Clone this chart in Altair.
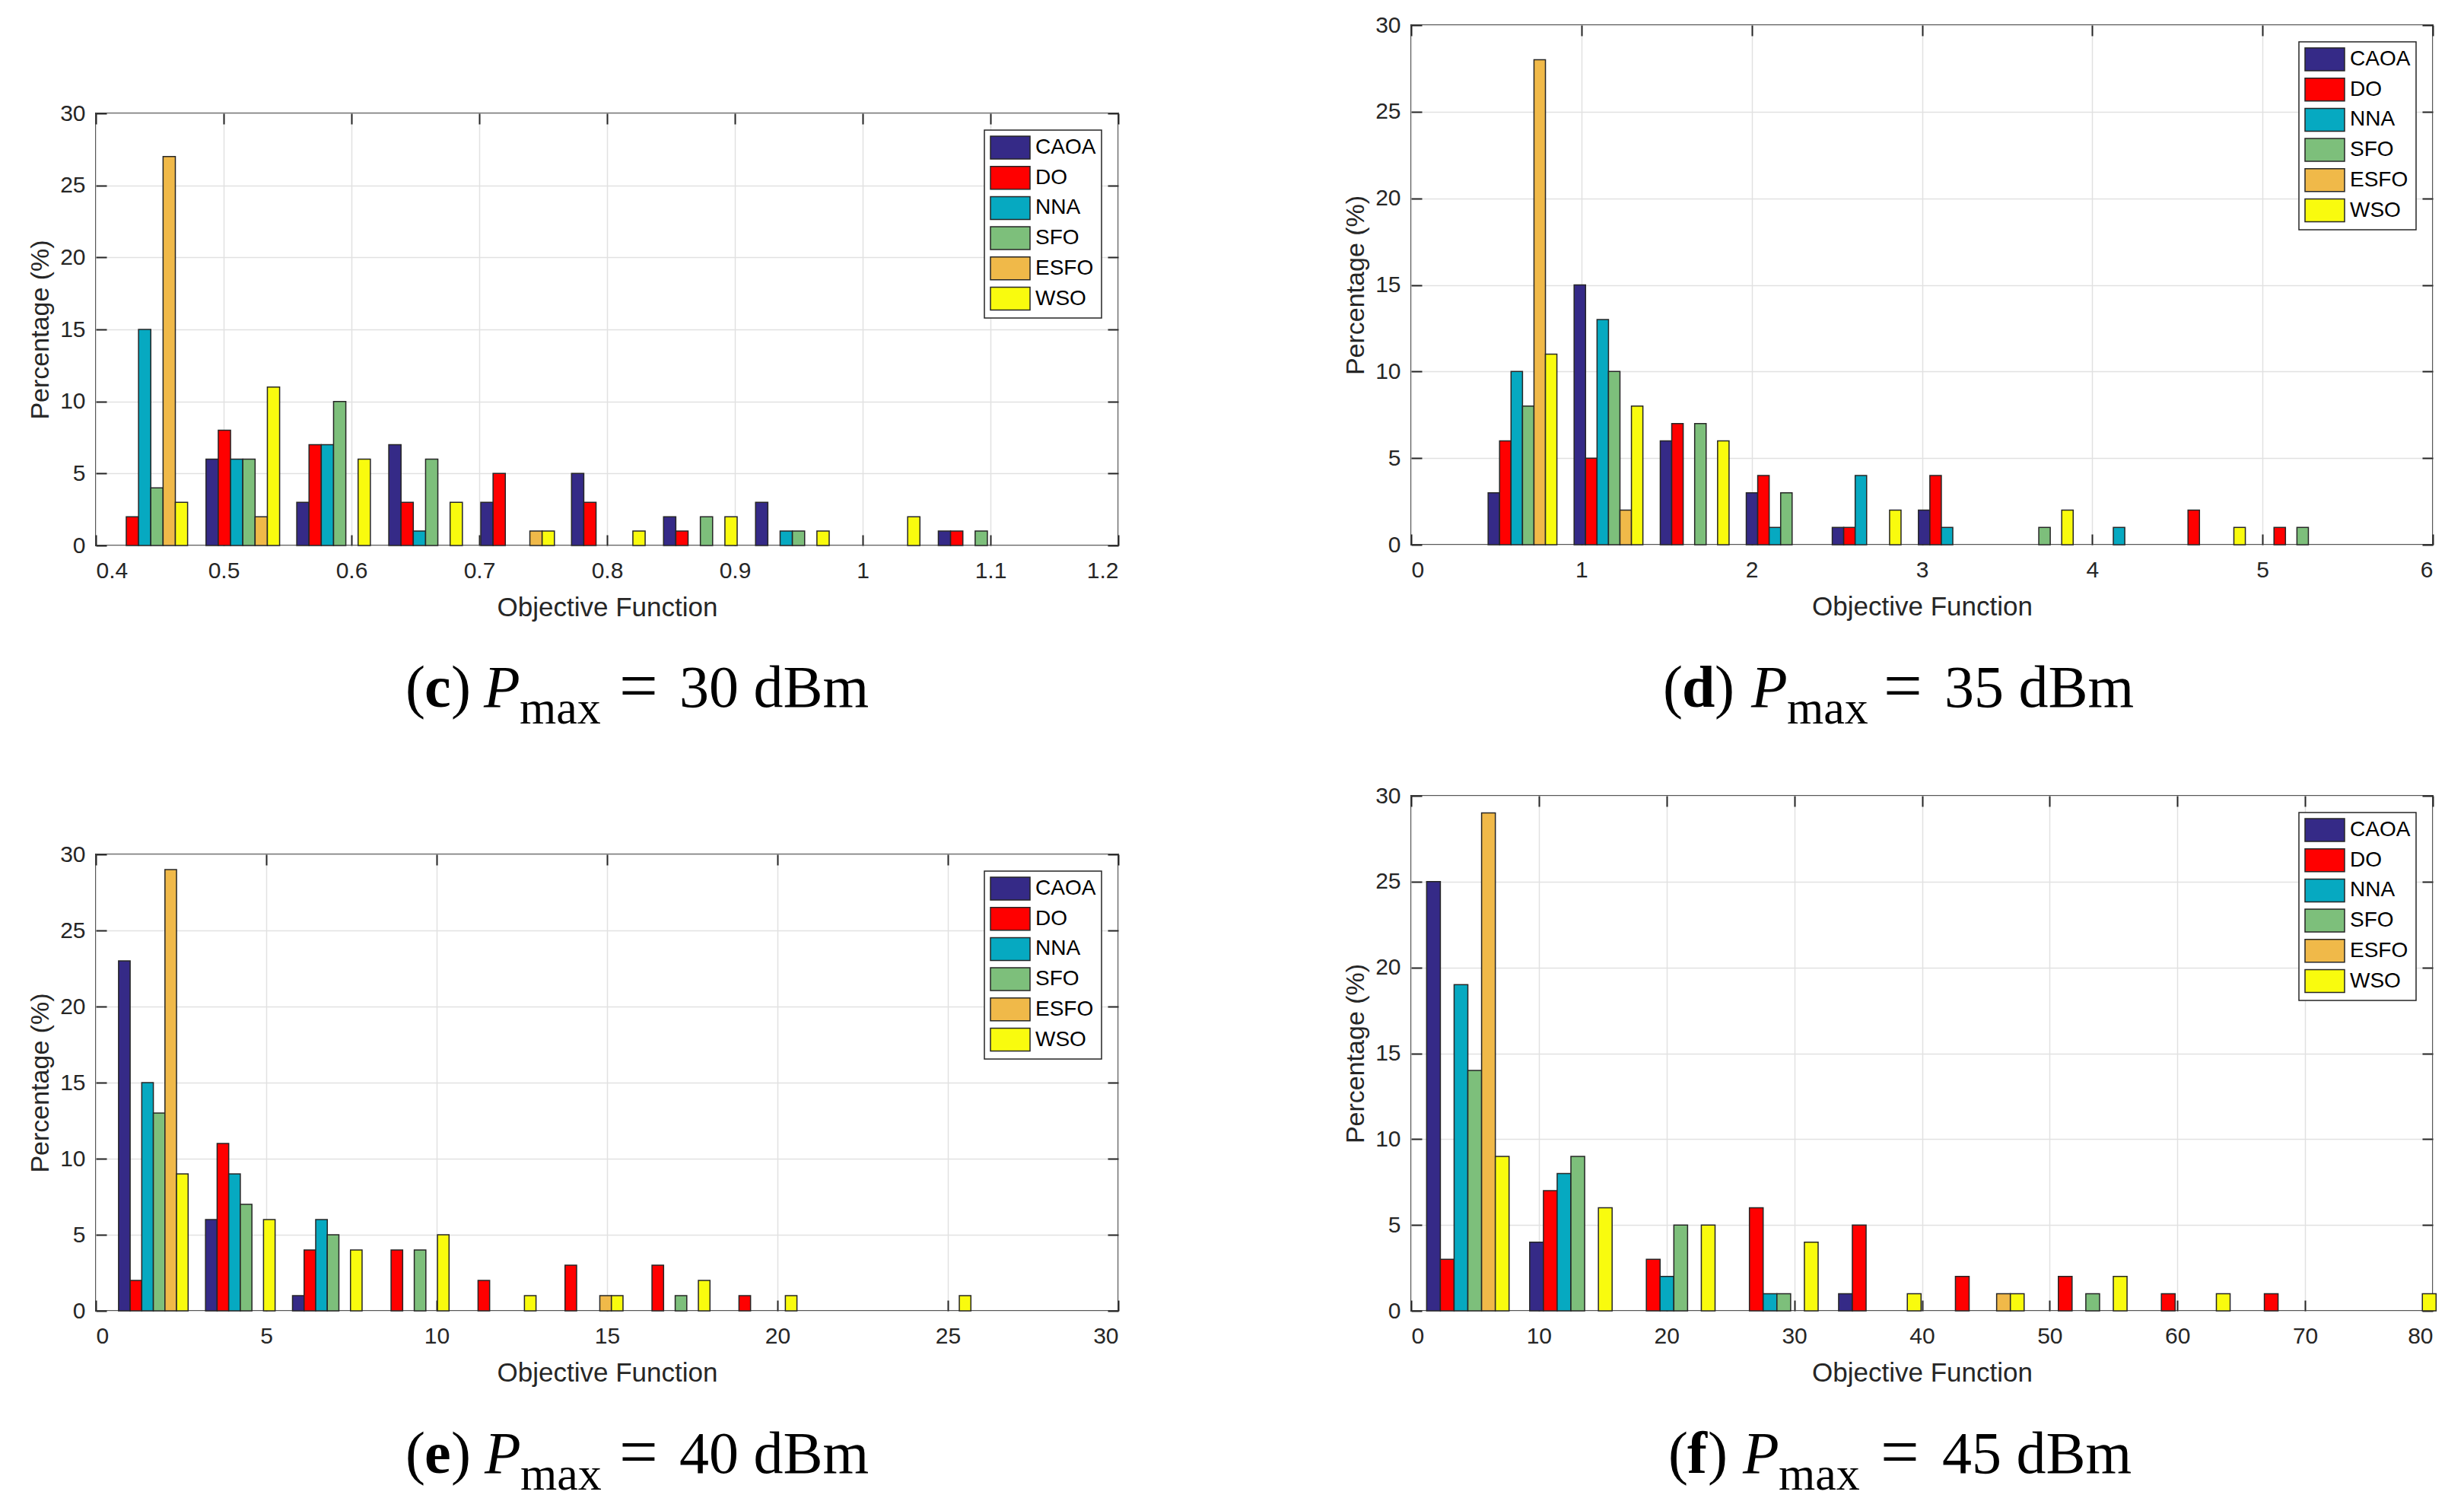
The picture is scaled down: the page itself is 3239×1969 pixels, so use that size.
import altair as alt
import pandas as pd

SERIES = ["CAOA", "DO", "NNA", "SFO", "ESFO", "WSO"]
COLORS = ["#352A87", "#FF0000", "#06A9C1", "#7DBF7B", "#F0B949", "#F9FB0E"]

Y_TICKS = [0, 5, 10, 15, 20, 25, 30]

# ---- panel (c) Pmax = 30 dBm ----
c_centers = [0.443, 0.515, 0.586, 0.658, 0.730, 0.801, 0.873, 0.945, 1.016, 1.088]
c_ticks = [0.4, 0.5, 0.6, 0.7, 0.8, 0.9, 1.0, 1.1, 1.2]
c_caoa = [0, 6, 3, 7, 3, 5, 2, 3, 0, 1]
c_do   = [2, 8, 7, 3, 5, 3, 1, 0, 0, 1]
c_nna  = [15, 6, 7, 1, 0, 0, 0, 1, 0, 0]
c_sfo  = [4, 6, 10, 6, 0, 0, 2, 1, 0, 1]
c_esfo = [27, 2, 0, 0, 1, 0, 0, 0, 0, 0]
c_wso  = [3, 11, 6, 3, 1, 1, 2, 1, 2, 0]

# ---- panel (d) Pmax = 35 dBm ----
d_centers = [0.654, 1.159, 1.665, 2.170, 2.675, 3.181, 3.686, 4.191, 4.697, 5.202]
d_ticks = [0, 1, 2, 3, 4, 5, 6]
d_caoa = [3, 15, 6, 3, 1, 2, 0, 0, 0, 0]
d_do   = [6, 5, 7, 4, 1, 4, 0, 0, 2, 1]
d_nna  = [10, 13, 0, 1, 4, 1, 0, 1, 0, 0]
d_sfo  = [8, 10, 7, 3, 0, 0, 1, 0, 0, 1]
d_esfo = [28, 2, 0, 0, 0, 0, 0, 0, 0, 0]
d_wso  = [11, 8, 6, 0, 2, 0, 2, 0, 1, 0]

# ---- panel (e) Pmax = 40 dBm ----
e_centers = [1.687, 4.239, 6.791, 9.343, 11.895, 14.447, 16.999, 19.551, 22.103, 24.655]
e_ticks = [0, 5, 10, 15, 20, 25, 30]
e_caoa = [23, 6, 1, 0, 0, 0, 0, 0, 0, 0]
e_do   = [2, 11, 4, 4, 2, 3, 3, 1, 0, 0]
e_nna  = [15, 9, 6, 0, 0, 0, 0, 0, 0, 0]
e_sfo  = [13, 7, 5, 4, 0, 0, 1, 0, 0, 0]
e_esfo = [29, 0, 0, 0, 0, 1, 0, 0, 0, 0]
e_wso  = [9, 6, 4, 5, 1, 1, 2, 1, 0, 1]

# ---- panel (f) Pmax = 45 dBm ----
f_centers = [4.44, 12.51, 20.57, 28.64, 36.70, 44.77, 52.83, 60.90, 68.96, 77.03]
f_ticks = [0, 10, 20, 30, 40, 50, 60, 70, 80]
f_caoa = [25, 4, 0, 0, 1, 0, 0, 0, 0, 0]
f_do   = [3, 7, 3, 6, 5, 2, 2, 1, 1, 0]
f_nna  = [19, 8, 2, 1, 0, 0, 0, 0, 0, 0]
f_sfo  = [14, 9, 5, 1, 0, 0, 1, 0, 0, 0]
f_esfo = [29, 0, 0, 0, 0, 1, 0, 0, 0, 0]
f_wso  = [9, 6, 5, 4, 1, 1, 2, 1, 0, 1]

TEXT = "#262626"
SANS = "Liberation Sans"
SERIF = "Liberation Serif"
SYMBOL_PATH = "M-1,-1H2.467V1H-1Z"


def panel_df(centers, cols):
    spacing = centers[1] - centers[0]
    bw = 0.8 * spacing / len(SERIES)
    rows = []
    for k, cx in enumerate(centers):
        for i, s in enumerate(SERIES):
            v = cols[i][k]
            if v > 0:
                left = cx - 0.4 * spacing + i * bw
                rows.append({"series": s, "x0": left, "x1": left + bw, "v": v, "base": 0})
    return pd.DataFrame(rows)


def tick_axis(orient, values):
    return alt.Axis(orient=orient, values=values, labels=False, grid=False,
                    domain=False, ticks=True, tickSize=14, tickWidth=2,
                    tickColor=TEXT, offset=-14, title=None)


def panel(df, xdom, xticks, w, h):
    xs = alt.Scale(domain=xdom, nice=False, zero=False)
    ys = alt.Scale(domain=[0, 30], nice=False)
    bars = alt.Chart(df).mark_bar(stroke=TEXT, strokeWidth=1.5, opacity=1).encode(
        x=alt.X("x0:Q", scale=xs,
                axis=alt.Axis(orient="bottom", values=xticks, format="~r",
                              title="Objective Function", grid=True, ticks=False,
                              tickSize=0, domain=False, labelPadding=18,
                              titlePadding=16)),
        x2="x1:Q",
        y=alt.Y("v:Q", scale=ys,
                axis=alt.Axis(orient="left", values=Y_TICKS, title="Percentage (%)",
                              grid=True, ticks=False, tickSize=0, domain=False,
                              labelPadding=14, titlePadding=8)),
        y2="base:Q",
        color=alt.Color("series:N", scale=alt.Scale(domain=SERIES, range=COLORS),
                        legend=alt.Legend(title=None, orient="top-right", offset=22,
                                          symbolType=SYMBOL_PATH, symbolSize=900,
                                          symbolStrokeColor=TEXT, symbolStrokeWidth=1.5,
                                          symbolOpacity=1, labelOffset=28,
                                          rowPadding=3.7, padding=7,
                                          strokeColor=TEXT, fillColor="white",
                                          labelFont=SANS, labelFontSize=28,
                                          labelColor="black")),
    )
    ticks_lb = alt.Chart(df).mark_bar(opacity=0).encode(
        x=alt.X("x0:Q", scale=xs, axis=tick_axis("bottom", xticks)),
        x2="x1:Q",
        y=alt.Y("v:Q", scale=ys, axis=tick_axis("left", Y_TICKS)),
        y2="base:Q",
    )
    ticks_tr = alt.Chart(df).mark_bar(opacity=0).encode(
        x=alt.X("x0:Q", scale=xs, axis=tick_axis("top", xticks)),
        x2="x1:Q",
        y=alt.Y("v:Q", scale=ys, axis=tick_axis("right", Y_TICKS)),
        y2="base:Q",
    )
    return alt.layer(bars, ticks_lb, ticks_tr).resolve_axis(
        x="independent", y="independent").properties(width=w, height=h)


ONE = pd.DataFrame({"a": [0]})
CAP_FS = 78
SUB_FS = 62
EQ_FS = 90


def caption(letter, value, offs, x0, base, w, h):
    pieces = [
        ("(", 0, base, CAP_FS, "normal", "normal"),
        (letter, offs[0], base, CAP_FS, "bold", "normal"),
        (")", offs[1], base, CAP_FS, "normal", "normal"),
        ("P", offs[2], base, CAP_FS, "normal", "italic"),
        ("max", offs[3], base + 22, SUB_FS, "normal", "normal"),
        ("=", offs[4], base + 3, EQ_FS, "normal", "normal"),
        (f"{value} dBm", offs[5], base, CAP_FS, "normal", "normal"),
    ]
    layers = []
    for t, dx, y, fs, fw, fst in pieces:
        layers.append(
            alt.Chart(ONE).mark_text(align="left", baseline="alphabetic", font=SERIF,
                                     fontSize=fs, fontWeight=fw, fontStyle=fst,
                                     color="black").encode(
                x=alt.value(x0 + dx), y=alt.value(y), text=alt.value(t)))
    return alt.layer(*layers).properties(width=w, height=h,
                                         view=alt.ViewBackground(strokeOpacity=0))


def spacer(w, h):
    return alt.Chart(ONE).mark_point(opacity=0).properties(
        width=w, height=h, view=alt.ViewBackground(strokeOpacity=0))


pc = panel(panel_df(c_centers, [c_caoa, c_do, c_nna, c_sfo, c_esfo, c_wso]), [0.4, 1.2], c_ticks, 1344, 568)
pd_ = panel(panel_df(d_centers, [d_caoa, d_do, d_nna, d_sfo, d_esfo, d_wso]), [0, 6], d_ticks, 1343, 683)
pe = panel(panel_df(e_centers, [e_caoa, e_do, e_nna, e_sfo, e_esfo, e_wso]), [0, 30], e_ticks, 1344, 600)
pf = panel(panel_df(f_centers, [f_caoa, f_do, f_nna, f_sfo, f_esfo, f_wso]), [0, 80], f_ticks, 1343, 677)

cap_c = caption("c", 30, [25, 60, 103, 150, 281, 360], 407, 212, 1344, 406)
cap_d = caption("d", 35, [25, 68, 116, 163, 290, 370], 331, 213, 1343, 330)
cap_e = caption("e", 40, [25, 60, 104, 151, 281, 360], 407, 213, 1344, 225)
cap_f = caption("f", 45, [25, 52, 98, 145, 279, 360], 338, 213, 1343, 225)

left = alt.vconcat(spacer(1344, 116), pc, cap_c, pe, cap_e, spacing=0,
                   bounds="flush").resolve_scale(color="independent")
right = alt.vconcat(pd_, cap_d, pf, cap_f, spacing=0,
                    bounds="flush").resolve_scale(color="independent")

chart = alt.hconcat(left, right, spacing=292).resolve_scale(
    color="independent"
).properties(
    padding={"left": 27, "top": 9, "right": 0, "bottom": 0}
).configure_view(
    stroke=TEXT, strokeWidth=2
).configure_axis(
    labelFont=SANS, labelFontSize=30, labelColor=TEXT,
    titleFont=SANS, titleFontWeight="normal", titleColor=TEXT,
    gridColor="#e1e1e1", gridWidth=1.5
).configure_axisX(
    titleFontSize=35
).configure_axisY(
    titleFontSize=34
).configure_legend(
    strokeWidth=1.5, cornerRadius=0
)

chart.save("out.html", embed_options={"renderer": "svg", "actions": False})
